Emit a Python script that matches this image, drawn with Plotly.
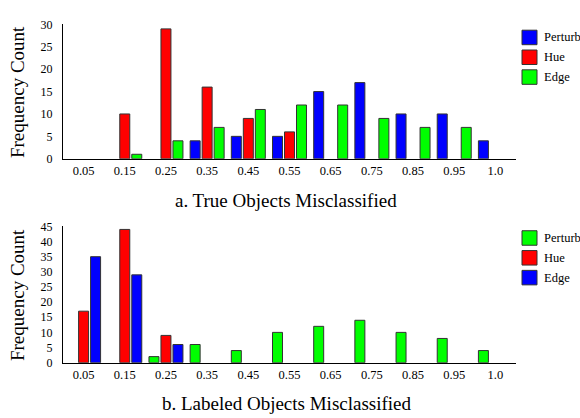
import plotly.graph_objects as go

categories = ["0.05", "0.15", "0.25", "0.35", "0.45", "0.55", "0.65", "0.75", "0.85", "0.95", "1.0"]

# Chart a: True Objects Misclassified
a_names = ["Perturb", "Hue", "Edge"]
a_colors = ["#0000ff", "#ff0000", "#00ff00"]
a_perturb = [0, 0, 0, 4, 5, 5, 15, 17, 10, 10, 4]
a_hue = [0, 10, 29, 16, 9, 6, 0, 0, 0, 0, 0]
a_edge = [0, 1, 4, 7, 11, 12, 12, 9, 7, 7, 0]

# Chart b: Labeled Objects Misclassified
b_names = ["Perturb", "Hue", "Edge"]
b_colors = ["#00ff00", "#ff0000", "#0000ff"]
b_perturb = [0, 0, 2, 6, 4, 10, 12, 14, 10, 8, 4]
b_hue = [17, 44, 9, 0, 0, 0, 0, 0, 0, 0, 0]
b_edge = [35, 29, 6, 0, 0, 0, 0, 0, 0, 0, 0]

a_ticks = [0, 5, 10, 15, 20, 25, 30]
b_ticks = [0, 5, 10, 15, 20, 25, 30, 35, 40, 45]

W, H = 580, 418
FONT = "Liberation Serif, Times New Roman, serif"
OUTLINE = "#333333"

fig = go.Figure()

def add_series(names, colors, series, xa, ya):
    for n, c, v in zip(names, colors, series):
        fig.add_trace(go.Bar(
            x=categories, y=v, name=n, xaxis=xa, yaxis=ya,
            marker=dict(color=c, line=dict(color=OUTLINE,
                                           width=[1 if val > 0 else 0 for val in v])),
            showlegend=False, offsetgroup=n,
        ))

add_series(a_names, a_colors, [a_perturb, a_hue, a_edge], "x", "y")
add_series(b_names, b_colors, [b_perturb, b_hue, b_edge], "x2", "y2")

def px_x(p):
    return p / W

def px_y(p):
    return 1 - p / H

axis_common = dict(
    type="category", showgrid=False, showline=True, linecolor="black", linewidth=1,
    ticks="", tickfont=dict(family=FONT, size=12.5, color="black"),
    range=[-0.5, 10.5], fixedrange=True, ticklabelstandoff=0,
)
yaxis_common = dict(
    showgrid=False, showline=True, linecolor="black", linewidth=1, ticks="",
    tickfont=dict(family=FONT, size=12, color="black"), zeroline=False, fixedrange=True,
    ticklabelstandoff=7,
)

fig.update_layout(
    width=W, height=H,
    margin=dict(l=0, r=0, t=0, b=0),
    paper_bgcolor="white", plot_bgcolor="white",
    barmode="group", bargap=0.126, bargroupgap=0.167,
    xaxis=dict(axis_common, domain=[px_x(63), px_x(516)], anchor="y"),
    yaxis=dict(yaxis_common, domain=[px_y(157), px_y(18)], range=[0, 30],
               tickvals=a_ticks, anchor="x"),
    xaxis2=dict(axis_common, domain=[px_x(63), px_x(516)], anchor="y2"),
    yaxis2=dict(yaxis_common, domain=[px_y(368), px_y(227)], range=[0, 45],
                tickvals=b_ticks, anchor="x2"),
    font=dict(family=FONT, color="black"),
)

shapes = []
annotations = []

def legend(names, colors, top):
    for i, (n, c) in enumerate(zip(names, colors)):
        y0 = top + i * 20.5
        shapes.append(dict(type="rect", xref="paper", yref="paper",
                           x0=px_x(522), x1=px_x(537), y0=px_y(y0 + 15), y1=px_y(y0),
                           fillcolor=c, line=dict(color=OUTLINE, width=1)))
        annotations.append(dict(text=n, xref="paper", yref="paper",
                                x=px_x(542), y=px_y(y0 + 7.5), xanchor="left", yanchor="middle",
                                showarrow=False, font=dict(family=FONT, size=12.5, color="black")))

legend(a_names, a_colors, 24)
legend(b_names, b_colors, 231.5)

for text, yc in [("Frequency Count", 88), ("Frequency Count", 298)]:
    annotations.append(dict(text=text, xref="paper", yref="paper", x=px_x(17), y=px_y(yc),
                            xanchor="center", yanchor="middle", textangle=-90, showarrow=False,
                            font=dict(family=FONT, size=19, color="black")))

annotations.append(dict(text="a. True Objects Misclassified", xref="paper", yref="paper",
                        x=px_x(286), y=px_y(200), xanchor="center", yanchor="middle",
                        showarrow=False, font=dict(family=FONT, size=19, color="black")))
annotations.append(dict(text="b. Labeled Objects Misclassified", xref="paper", yref="paper",
                        x=px_x(287), y=px_y(410), xanchor="center", yanchor="middle",
                        showarrow=False, font=dict(family=FONT, size=19, color="black")))

fig.update_layout(shapes=shapes, annotations=annotations)

fig.write_html(
    "out.html",
    config={"displayModeBar": False},
    post_script="document.body.style.margin='0px';document.body.style.overflow='hidden';",
)
